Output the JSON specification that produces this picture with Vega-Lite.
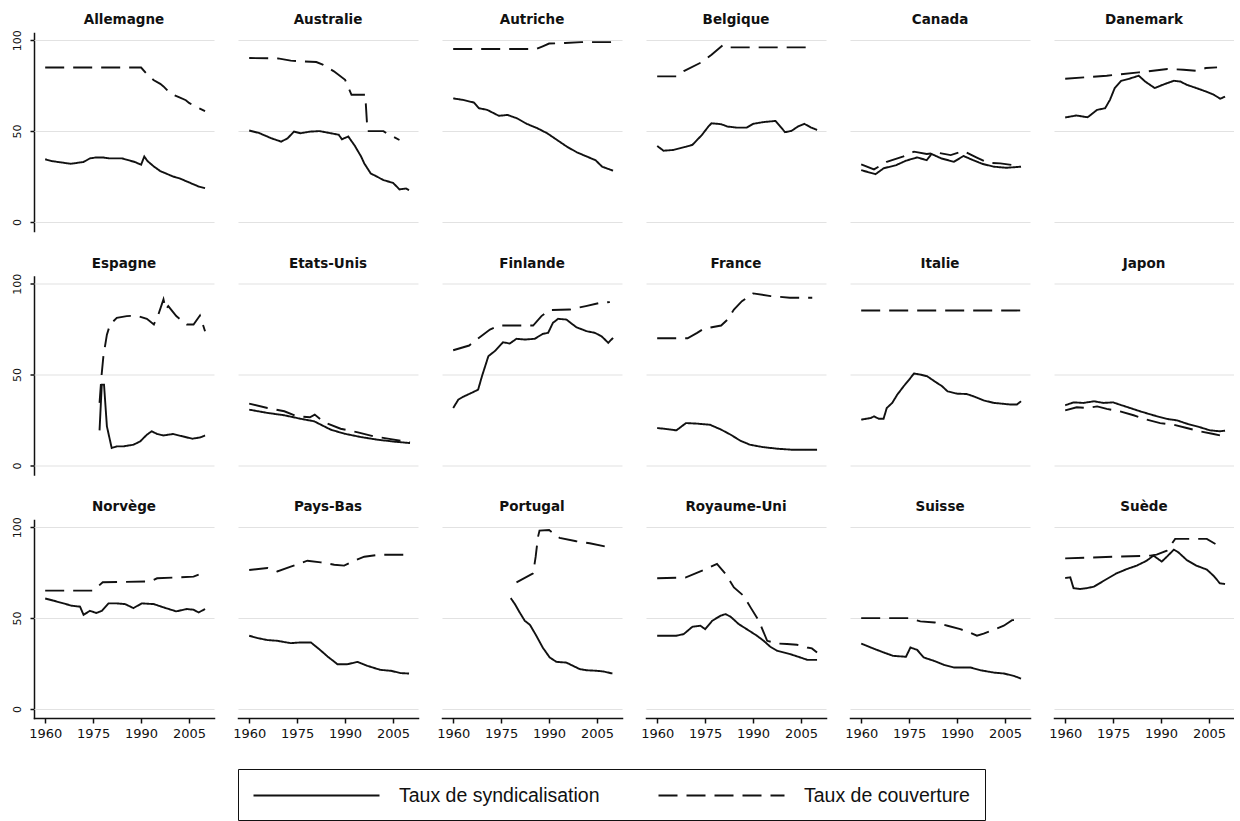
{
  "$schema": "https://vega.github.io/schema/vega-lite/v6.json",
  "padding": {"left": 4, "top": 13, "right": 0, "bottom": 0},
  "autosize": {"type": "pad"},
  "background": "white",
  "data": {"values": [
{"p":"Allemagne","s":"S","a":1960,"v":34.5},{"p":"Allemagne","s":"S","a":1962,"v":33.5},{"p":"Allemagne","s":"S","a":1964,"v":33},{"p":"Allemagne","s":"S","a":1966,"v":32.5},{"p":"Allemagne","s":"S","a":1968,"v":32},{"p":"Allemagne","s":"S","a":1970,"v":32.5},{"p":"Allemagne","s":"S","a":1972,"v":33},{"p":"Allemagne","s":"S","a":1974,"v":35},{"p":"Allemagne","s":"S","a":1976,"v":35.5},{"p":"Allemagne","s":"S","a":1978,"v":35.5},{"p":"Allemagne","s":"S","a":1980,"v":35},{"p":"Allemagne","s":"S","a":1982,"v":35},{"p":"Allemagne","s":"S","a":1984,"v":35},{"p":"Allemagne","s":"S","a":1986,"v":34},{"p":"Allemagne","s":"S","a":1988,"v":33},{"p":"Allemagne","s":"S","a":1990,"v":31.5},{"p":"Allemagne","s":"S","a":1991,"v":36},{"p":"Allemagne","s":"S","a":1992,"v":33.5},{"p":"Allemagne","s":"S","a":1994,"v":30.5},{"p":"Allemagne","s":"S","a":1996,"v":28},{"p":"Allemagne","s":"S","a":1998,"v":26.5},{"p":"Allemagne","s":"S","a":2000,"v":25},{"p":"Allemagne","s":"S","a":2002,"v":24},{"p":"Allemagne","s":"S","a":2004,"v":22.5},{"p":"Allemagne","s":"S","a":2006,"v":21},{"p":"Allemagne","s":"S","a":2008,"v":19.5},{"p":"Allemagne","s":"S","a":2010,"v":18.6},
{"p":"Allemagne","s":"C","a":1960,"v":85},{"p":"Allemagne","s":"C","a":1990,"v":85},{"p":"Allemagne","s":"C","a":1992,"v":81},{"p":"Allemagne","s":"C","a":1994,"v":78},{"p":"Allemagne","s":"C","a":1996,"v":76},{"p":"Allemagne","s":"C","a":1997,"v":74.6},{"p":"Allemagne","s":"C","a":1999,"v":71},{"p":"Allemagne","s":"C","a":2000,"v":70},{"p":"Allemagne","s":"C","a":2002,"v":68.5},{"p":"Allemagne","s":"C","a":2004,"v":67},{"p":"Allemagne","s":"C","a":2005,"v":65.5},{"p":"Allemagne","s":"C","a":2007,"v":63.5},{"p":"Allemagne","s":"C","a":2010,"v":61},
{"p":"Australie","s":"S","a":1960,"v":50.3},{"p":"Australie","s":"S","a":1963,"v":49},{"p":"Australie","s":"S","a":1967,"v":46},{"p":"Australie","s":"S","a":1970,"v":44.2},{"p":"Australie","s":"S","a":1972,"v":46},{"p":"Australie","s":"S","a":1974,"v":49.7},{"p":"Australie","s":"S","a":1976,"v":48.8},{"p":"Australie","s":"S","a":1979,"v":49.7},{"p":"Australie","s":"S","a":1982,"v":50},{"p":"Australie","s":"S","a":1985,"v":49},{"p":"Australie","s":"S","a":1988,"v":48},{"p":"Australie","s":"S","a":1989,"v":45.5},{"p":"Australie","s":"S","a":1991,"v":47},{"p":"Australie","s":"S","a":1993,"v":42},{"p":"Australie","s":"S","a":1995,"v":36},{"p":"Australie","s":"S","a":1996,"v":32.2},{"p":"Australie","s":"S","a":1998,"v":26.7},{"p":"Australie","s":"S","a":2000,"v":24.9},{"p":"Australie","s":"S","a":2002,"v":23},{"p":"Australie","s":"S","a":2005,"v":21.5},{"p":"Australie","s":"S","a":2007,"v":17.9},{"p":"Australie","s":"S","a":2009,"v":18.4},{"p":"Australie","s":"S","a":2010,"v":17.5},
{"p":"Australie","s":"C","a":1960,"v":90.2},{"p":"Australie","s":"C","a":1969,"v":90},{"p":"Australie","s":"C","a":1973,"v":88.8},{"p":"Australie","s":"C","a":1976,"v":88.4},{"p":"Australie","s":"C","a":1981,"v":88},{"p":"Australie","s":"C","a":1983,"v":86.6},{"p":"Australie","s":"C","a":1986.5,"v":82.9},{"p":"Australie","s":"C","a":1990,"v":78.2},{"p":"Australie","s":"C","a":1992,"v":70},{"p":"Australie","s":"C","a":1996.3,"v":70},{"p":"Australie","s":"C","a":1997,"v":50},{"p":"Australie","s":"C","a":2002,"v":50},{"p":"Australie","s":"C","a":2003,"v":48.8},{"p":"Australie","s":"C","a":2007,"v":45.1},
{"p":"Autriche","s":"S","a":1960,"v":68},{"p":"Autriche","s":"S","a":1963,"v":67.2},{"p":"Autriche","s":"S","a":1966.5,"v":65.7},{"p":"Autriche","s":"S","a":1968,"v":62.6},{"p":"Autriche","s":"S","a":1970.6,"v":61.7},{"p":"Autriche","s":"S","a":1974.3,"v":58.4},{"p":"Autriche","s":"S","a":1977,"v":58.9},{"p":"Autriche","s":"S","a":1980,"v":57},{"p":"Autriche","s":"S","a":1983,"v":54},{"p":"Autriche","s":"S","a":1986.3,"v":51.6},{"p":"Autriche","s":"S","a":1989.4,"v":48.8},{"p":"Autriche","s":"S","a":1992.5,"v":45.1},{"p":"Autriche","s":"S","a":1995.6,"v":41.4},{"p":"Autriche","s":"S","a":1998.7,"v":38.3},{"p":"Autriche","s":"S","a":2001.9,"v":35.9},{"p":"Autriche","s":"S","a":2004.5,"v":34},{"p":"Autriche","s":"S","a":2006.6,"v":30.4},{"p":"Autriche","s":"S","a":2010,"v":28.2},
{"p":"Autriche","s":"C","a":1960,"v":95.2},{"p":"Autriche","s":"C","a":1986,"v":95.2},{"p":"Autriche","s":"C","a":1988,"v":96.7},{"p":"Autriche","s":"C","a":1990,"v":98.2},{"p":"Autriche","s":"C","a":1995,"v":98.5},{"p":"Autriche","s":"C","a":2000,"v":99},{"p":"Autriche","s":"C","a":2010,"v":99},
{"p":"Belgique","s":"S","a":1960,"v":41.8},{"p":"Belgique","s":"S","a":1962,"v":39.2},{"p":"Belgique","s":"S","a":1965,"v":39.6},{"p":"Belgique","s":"S","a":1969,"v":41.4},{"p":"Belgique","s":"S","a":1971,"v":42.4},{"p":"Belgique","s":"S","a":1974,"v":47.9},{"p":"Belgique","s":"S","a":1976,"v":52.5},{"p":"Belgique","s":"S","a":1977,"v":54.3},{"p":"Belgique","s":"S","a":1980,"v":53.8},{"p":"Belgique","s":"S","a":1982,"v":52.5},{"p":"Belgique","s":"S","a":1985,"v":51.9},{"p":"Belgique","s":"S","a":1988,"v":51.9},{"p":"Belgique","s":"S","a":1990,"v":54},{"p":"Belgique","s":"S","a":1993,"v":54.9},{"p":"Belgique","s":"S","a":1997,"v":55.6},{"p":"Belgique","s":"S","a":1998.5,"v":52.5},{"p":"Belgique","s":"S","a":2000,"v":49.4},{"p":"Belgique","s":"S","a":2002,"v":50.1},{"p":"Belgique","s":"S","a":2004,"v":52.5},{"p":"Belgique","s":"S","a":2006,"v":54},{"p":"Belgique","s":"S","a":2008,"v":52.1},{"p":"Belgique","s":"S","a":2010,"v":50.6},
{"p":"Belgique","s":"C","a":1960,"v":80.1},{"p":"Belgique","s":"C","a":1966,"v":80.1},{"p":"Belgique","s":"C","a":1968.5,"v":83.2},{"p":"Belgique","s":"C","a":1974,"v":88},{"p":"Belgique","s":"C","a":1977,"v":92},{"p":"Belgique","s":"C","a":1980.5,"v":97.3},{"p":"Belgique","s":"C","a":1981.5,"v":96.1},{"p":"Belgique","s":"C","a":2008,"v":96.1},
{"p":"Canada","s":"S","a":1960,"v":28.5},{"p":"Canada","s":"S","a":1963,"v":27},{"p":"Canada","s":"S","a":1964.5,"v":26.3},{"p":"Canada","s":"S","a":1967,"v":29.5},{"p":"Canada","s":"S","a":1971,"v":31.3},{"p":"Canada","s":"S","a":1974,"v":33.7},{"p":"Canada","s":"S","a":1977.5,"v":35.5},{"p":"Canada","s":"S","a":1980.5,"v":34},{"p":"Canada","s":"S","a":1982,"v":37.4},{"p":"Canada","s":"S","a":1985,"v":35},{"p":"Canada","s":"S","a":1989,"v":33.1},{"p":"Canada","s":"S","a":1992,"v":36.3},{"p":"Canada","s":"S","a":1995,"v":34},{"p":"Canada","s":"S","a":1998,"v":31.9},{"p":"Canada","s":"S","a":2001.5,"v":30.4},{"p":"Canada","s":"S","a":2005.5,"v":29.8},{"p":"Canada","s":"S","a":2010,"v":30.4},
{"p":"Canada","s":"C","a":1960,"v":31.7},{"p":"Canada","s":"C","a":1964,"v":28.9},{"p":"Canada","s":"C","a":1968,"v":33.1},{"p":"Canada","s":"C","a":1973,"v":35.9},{"p":"Canada","s":"C","a":1976.5,"v":38.7},{"p":"Canada","s":"C","a":1980.5,"v":37.4},{"p":"Canada","s":"C","a":1984,"v":38.1},{"p":"Canada","s":"C","a":1988,"v":36.8},{"p":"Canada","s":"C","a":1992,"v":39},{"p":"Canada","s":"C","a":1996,"v":35.5},{"p":"Canada","s":"C","a":1999.5,"v":32.6},{"p":"Canada","s":"C","a":2003.5,"v":32.2},{"p":"Canada","s":"C","a":2007.5,"v":31.3},{"p":"Canada","s":"C","a":2009.5,"v":30.9},
{"p":"Danemark","s":"S","a":1960,"v":57.5},{"p":"Danemark","s":"S","a":1963.5,"v":58.6},{"p":"Danemark","s":"S","a":1967,"v":57.6},{"p":"Danemark","s":"S","a":1970,"v":61.7},{"p":"Danemark","s":"S","a":1972.5,"v":62.6},{"p":"Danemark","s":"S","a":1974,"v":67.2},{"p":"Danemark","s":"S","a":1975.5,"v":73.7},{"p":"Danemark","s":"S","a":1977.5,"v":77.7},{"p":"Danemark","s":"S","a":1980,"v":78.8},{"p":"Danemark","s":"S","a":1983,"v":80.5},{"p":"Danemark","s":"S","a":1985,"v":77.3},{"p":"Danemark","s":"S","a":1988,"v":73.7},{"p":"Danemark","s":"S","a":1990.5,"v":75.5},{"p":"Danemark","s":"S","a":1994,"v":77.7},{"p":"Danemark","s":"S","a":1996,"v":77.3},{"p":"Danemark","s":"S","a":1998,"v":75.5},{"p":"Danemark","s":"S","a":2001,"v":73.7},{"p":"Danemark","s":"S","a":2004,"v":71.8},{"p":"Danemark","s":"S","a":2006.5,"v":70},{"p":"Danemark","s":"S","a":2008.5,"v":67.8},{"p":"Danemark","s":"S","a":2010,"v":69},
{"p":"Danemark","s":"C","a":1960,"v":78.8},{"p":"Danemark","s":"C","a":1967,"v":79.7},{"p":"Danemark","s":"C","a":1973,"v":80.5},{"p":"Danemark","s":"C","a":1983,"v":82.3},{"p":"Danemark","s":"C","a":1992,"v":84.2},{"p":"Danemark","s":"C","a":1997,"v":83.8},{"p":"Danemark","s":"C","a":2001,"v":83.2},{"p":"Danemark","s":"C","a":2004,"v":84.7},{"p":"Danemark","s":"C","a":2007.5,"v":85.1},
{"p":"Espagne","s":"S","a":1977,"v":19.3},{"p":"Espagne","s":"S","a":1977.7,"v":44.5},{"p":"Espagne","s":"S","a":1978.4,"v":44.5},{"p":"Espagne","s":"S","a":1979.3,"v":21.5},{"p":"Espagne","s":"S","a":1980.8,"v":9.6},{"p":"Espagne","s":"S","a":1982.4,"v":10.5},{"p":"Espagne","s":"S","a":1984.5,"v":10.5},{"p":"Espagne","s":"S","a":1987.6,"v":11.4},{"p":"Espagne","s":"S","a":1989.7,"v":13.2},{"p":"Espagne","s":"S","a":1991.8,"v":16.9},{"p":"Espagne","s":"S","a":1993.3,"v":18.8},{"p":"Espagne","s":"S","a":1995,"v":17.3},{"p":"Espagne","s":"S","a":1997,"v":16.5},{"p":"Espagne","s":"S","a":2000,"v":17.3},{"p":"Espagne","s":"S","a":2003,"v":16},{"p":"Espagne","s":"S","a":2006,"v":14.7},{"p":"Espagne","s":"S","a":2008.5,"v":15.4},{"p":"Espagne","s":"S","a":2010,"v":16.5},
{"p":"Espagne","s":"C","a":1977,"v":34.4},{"p":"Espagne","s":"C","a":1977.6,"v":49},{"p":"Espagne","s":"C","a":1978.2,"v":60},{"p":"Espagne","s":"C","a":1979.3,"v":72},{"p":"Espagne","s":"C","a":1980.3,"v":77.6},{"p":"Espagne","s":"C","a":1982.4,"v":81.2},{"p":"Espagne","s":"C","a":1985.5,"v":82.2},{"p":"Espagne","s":"C","a":1988.6,"v":82.5},{"p":"Espagne","s":"C","a":1991.8,"v":80.7},{"p":"Espagne","s":"C","a":1994,"v":77.6},{"p":"Espagne","s":"C","a":1995.4,"v":83.1},{"p":"Espagne","s":"C","a":1997,"v":91.4},{"p":"Espagne","s":"C","a":1997.7,"v":85.8},{"p":"Espagne","s":"C","a":1998.5,"v":87.7},{"p":"Espagne","s":"C","a":2001,"v":82.2},{"p":"Espagne","s":"C","a":2004.3,"v":77.6},{"p":"Espagne","s":"C","a":2006.4,"v":77.6},{"p":"Espagne","s":"C","a":2008.4,"v":82.5},{"p":"Espagne","s":"C","a":2010,"v":73.9},
{"p":"Etats-Unis","s":"S","a":1960,"v":30.7},{"p":"Etats-Unis","s":"S","a":1965.7,"v":28.9},{"p":"Etats-Unis","s":"S","a":1971,"v":27.6},{"p":"Etats-Unis","s":"S","a":1976,"v":25.7},{"p":"Etats-Unis","s":"S","a":1980.3,"v":24.3},{"p":"Etats-Unis","s":"S","a":1985.5,"v":19.7},{"p":"Etats-Unis","s":"S","a":1989.7,"v":17.5},{"p":"Etats-Unis","s":"S","a":1995,"v":15.6},{"p":"Etats-Unis","s":"S","a":2000,"v":14.2},{"p":"Etats-Unis","s":"S","a":2005.3,"v":13.1},{"p":"Etats-Unis","s":"S","a":2010.3,"v":12.3},
{"p":"Etats-Unis","s":"C","a":1960,"v":34},{"p":"Etats-Unis","s":"C","a":1965.7,"v":31.6},{"p":"Etats-Unis","s":"C","a":1971,"v":29.8},{"p":"Etats-Unis","s":"C","a":1975,"v":27},{"p":"Etats-Unis","s":"C","a":1979,"v":26.5},{"p":"Etats-Unis","s":"C","a":1980.5,"v":28},{"p":"Etats-Unis","s":"C","a":1983.5,"v":23.7},{"p":"Etats-Unis","s":"C","a":1988.6,"v":20.2},{"p":"Etats-Unis","s":"C","a":1994,"v":18.2},{"p":"Etats-Unis","s":"C","a":1999,"v":16},{"p":"Etats-Unis","s":"C","a":2004.3,"v":14.5},{"p":"Etats-Unis","s":"C","a":2010.3,"v":12.7},
{"p":"Finlande","s":"S","a":1960,"v":31.6},{"p":"Finlande","s":"S","a":1961.6,"v":36.2},{"p":"Finlande","s":"S","a":1963,"v":37.7},{"p":"Finlande","s":"S","a":1965.7,"v":39.9},{"p":"Finlande","s":"S","a":1967.8,"v":41.7},{"p":"Finlande","s":"S","a":1969,"v":49.1},{"p":"Finlande","s":"S","a":1971,"v":60.1},{"p":"Finlande","s":"S","a":1973,"v":62.9},{"p":"Finlande","s":"S","a":1975.6,"v":67.8},{"p":"Finlande","s":"S","a":1977.7,"v":67.1},{"p":"Finlande","s":"S","a":1979.8,"v":69.7},{"p":"Finlande","s":"S","a":1982.4,"v":69.3},{"p":"Finlande","s":"S","a":1985.5,"v":69.7},{"p":"Finlande","s":"S","a":1988,"v":72.4},{"p":"Finlande","s":"S","a":1989.7,"v":73},{"p":"Finlande","s":"S","a":1991.2,"v":78.5},{"p":"Finlande","s":"S","a":1992.8,"v":80.7},{"p":"Finlande","s":"S","a":1995.4,"v":80.3},{"p":"Finlande","s":"S","a":1998.5,"v":76.1},{"p":"Finlande","s":"S","a":2001.7,"v":73.9},{"p":"Finlande","s":"S","a":2004.3,"v":73},{"p":"Finlande","s":"S","a":2006.4,"v":71.1},{"p":"Finlande","s":"S","a":2008.5,"v":67.5},{"p":"Finlande","s":"S","a":2010,"v":70.2},
{"p":"Finlande","s":"C","a":1960,"v":63.4},{"p":"Finlande","s":"C","a":1965,"v":66},{"p":"Finlande","s":"C","a":1968,"v":70.2},{"p":"Finlande","s":"C","a":1971.5,"v":74.8},{"p":"Finlande","s":"C","a":1974.5,"v":77},{"p":"Finlande","s":"C","a":1985,"v":77},{"p":"Finlande","s":"C","a":1987.6,"v":82.2},{"p":"Finlande","s":"C","a":1990,"v":85.5},{"p":"Finlande","s":"C","a":1996.5,"v":85.8},{"p":"Finlande","s":"C","a":2001.5,"v":87.7},{"p":"Finlande","s":"C","a":2006,"v":89.5},{"p":"Finlande","s":"C","a":2009,"v":89.9},
{"p":"France","s":"S","a":1960,"v":20.6},{"p":"France","s":"S","a":1963,"v":20},{"p":"France","s":"S","a":1966,"v":19.3},{"p":"France","s":"S","a":1969,"v":23.3},{"p":"France","s":"S","a":1972.5,"v":23},{"p":"France","s":"S","a":1976.5,"v":22.4},{"p":"France","s":"S","a":1980,"v":19.7},{"p":"France","s":"S","a":1983,"v":16.9},{"p":"France","s":"S","a":1986,"v":13.6},{"p":"France","s":"S","a":1989,"v":11.4},{"p":"France","s":"S","a":1993,"v":10.1},{"p":"France","s":"S","a":1997.5,"v":9.2},{"p":"France","s":"S","a":2002.5,"v":8.6},{"p":"France","s":"S","a":2010,"v":8.6},
{"p":"France","s":"C","a":1960,"v":70},{"p":"France","s":"C","a":1969.5,"v":70},{"p":"France","s":"C","a":1972.5,"v":73},{"p":"France","s":"C","a":1974.5,"v":75.2},{"p":"France","s":"C","a":1980,"v":77},{"p":"France","s":"C","a":1982,"v":80.3},{"p":"France","s":"C","a":1984,"v":85.8},{"p":"France","s":"C","a":1986.5,"v":90.4},{"p":"France","s":"C","a":1990,"v":94.7},{"p":"France","s":"C","a":1995.5,"v":93.2},{"p":"France","s":"C","a":2001.5,"v":92.3},{"p":"France","s":"C","a":2008.5,"v":92.3},
{"p":"Italie","s":"S","a":1960,"v":25.2},{"p":"Italie","s":"S","a":1963,"v":26.1},{"p":"Italie","s":"S","a":1964,"v":27},{"p":"Italie","s":"S","a":1965.5,"v":25.7},{"p":"Italie","s":"S","a":1967,"v":25.7},{"p":"Italie","s":"S","a":1968,"v":31.6},{"p":"Italie","s":"S","a":1969.7,"v":34.4},{"p":"Italie","s":"S","a":1971.3,"v":39},{"p":"Italie","s":"S","a":1973.3,"v":43.6},{"p":"Italie","s":"S","a":1975,"v":47.2},{"p":"Italie","s":"S","a":1976.5,"v":50.6},{"p":"Italie","s":"S","a":1978.5,"v":50},{"p":"Italie","s":"S","a":1980.6,"v":49.1},{"p":"Italie","s":"S","a":1983.2,"v":46},{"p":"Italie","s":"S","a":1985.3,"v":43.6},{"p":"Italie","s":"S","a":1987,"v":40.8},{"p":"Italie","s":"S","a":1990,"v":39.5},{"p":"Italie","s":"S","a":1993,"v":39.3},{"p":"Italie","s":"S","a":1995.2,"v":38},{"p":"Italie","s":"S","a":1998.3,"v":35.8},{"p":"Italie","s":"S","a":2001.5,"v":34.4},{"p":"Italie","s":"S","a":2004,"v":34},{"p":"Italie","s":"S","a":2006.7,"v":33.5},{"p":"Italie","s":"S","a":2008.7,"v":33.5},{"p":"Italie","s":"S","a":2010,"v":35.3},
{"p":"Italie","s":"C","a":1960,"v":85.3},{"p":"Italie","s":"C","a":2010,"v":85.3},
{"p":"Japon","s":"S","a":1960,"v":33.1},{"p":"Japon","s":"S","a":1962.6,"v":34.7},{"p":"Japon","s":"S","a":1965.7,"v":34.4},{"p":"Japon","s":"S","a":1969,"v":35.3},{"p":"Japon","s":"S","a":1972,"v":34.4},{"p":"Japon","s":"S","a":1975,"v":34.7},{"p":"Japon","s":"S","a":1977,"v":33.5},{"p":"Japon","s":"S","a":1980.3,"v":31.6},{"p":"Japon","s":"S","a":1983.4,"v":29.8},{"p":"Japon","s":"S","a":1987.6,"v":27.6},{"p":"Japon","s":"S","a":1991.8,"v":25.6},{"p":"Japon","s":"S","a":1995,"v":24.8},{"p":"Japon","s":"S","a":1998,"v":23},{"p":"Japon","s":"S","a":2002,"v":21.1},{"p":"Japon","s":"S","a":2005.3,"v":19.3},{"p":"Japon","s":"S","a":2008.4,"v":18.8},{"p":"Japon","s":"S","a":2010,"v":19.1},
{"p":"Japon","s":"C","a":1960,"v":30.3},{"p":"Japon","s":"C","a":1963.6,"v":32},{"p":"Japon","s":"C","a":1966.8,"v":31.6},{"p":"Japon","s":"C","a":1970,"v":32.5},{"p":"Japon","s":"C","a":1973,"v":31.1},{"p":"Japon","s":"C","a":1977,"v":29.8},{"p":"Japon","s":"C","a":1981.4,"v":27.6},{"p":"Japon","s":"C","a":1985.5,"v":25.2},{"p":"Japon","s":"C","a":1989.7,"v":23.3},{"p":"Japon","s":"C","a":1994,"v":22.4},{"p":"Japon","s":"C","a":1998,"v":20.6},{"p":"Japon","s":"C","a":2002,"v":18.8},{"p":"Japon","s":"C","a":2006.4,"v":17.3},{"p":"Japon","s":"C","a":2008.4,"v":16.5},
{"p":"Norvège","s":"S","a":1960,"v":60.8},{"p":"Norvège","s":"S","a":1962.6,"v":59.6},{"p":"Norvège","s":"S","a":1965.7,"v":58.1},{"p":"Norvège","s":"S","a":1968.3,"v":56.8},{"p":"Norvège","s":"S","a":1970.9,"v":56.3},{"p":"Norvège","s":"S","a":1972,"v":51.8},{"p":"Norvège","s":"S","a":1974,"v":54},{"p":"Norvège","s":"S","a":1976,"v":52.8},{"p":"Norvège","s":"S","a":1977.7,"v":54},{"p":"Norvège","s":"S","a":1979.8,"v":58.1},{"p":"Norvège","s":"S","a":1982.4,"v":58.1},{"p":"Norvège","s":"S","a":1985,"v":57.7},{"p":"Norvège","s":"S","a":1987.6,"v":55.5},{"p":"Norvège","s":"S","a":1990.2,"v":58.1},{"p":"Norvège","s":"S","a":1994,"v":57.7},{"p":"Norvège","s":"S","a":1997,"v":55.9},{"p":"Norvège","s":"S","a":2001,"v":53.7},{"p":"Norvège","s":"S","a":2004.3,"v":55},{"p":"Norvège","s":"S","a":2006.4,"v":54.6},{"p":"Norvège","s":"S","a":2008,"v":53.1},{"p":"Norvège","s":"S","a":2010,"v":55},
{"p":"Norvège","s":"C","a":1960,"v":65.1},{"p":"Norvège","s":"C","a":1975,"v":65.1},{"p":"Norvège","s":"C","a":1978,"v":69.7},{"p":"Norvège","s":"C","a":1993,"v":70.2},{"p":"Norvège","s":"C","a":1995,"v":71.9},{"p":"Norvège","s":"C","a":2006.4,"v":72.8},{"p":"Norvège","s":"C","a":2008,"v":73.9},
{"p":"Pays-Bas","s":"S","a":1960,"v":40.3},{"p":"Pays-Bas","s":"S","a":1962.6,"v":39},{"p":"Pays-Bas","s":"S","a":1965.7,"v":37.9},{"p":"Pays-Bas","s":"S","a":1968.8,"v":37.5},{"p":"Pays-Bas","s":"S","a":1973,"v":36.2},{"p":"Pays-Bas","s":"S","a":1976,"v":36.6},{"p":"Pays-Bas","s":"S","a":1979.3,"v":36.6},{"p":"Pays-Bas","s":"S","a":1981.9,"v":32.9},{"p":"Pays-Bas","s":"S","a":1984.5,"v":28.9},{"p":"Pays-Bas","s":"S","a":1987.6,"v":24.6},{"p":"Pays-Bas","s":"S","a":1990.7,"v":24.6},{"p":"Pays-Bas","s":"S","a":1993.9,"v":25.9},{"p":"Pays-Bas","s":"S","a":1997,"v":23.7},{"p":"Pays-Bas","s":"S","a":2001,"v":21.5},{"p":"Pays-Bas","s":"S","a":2004.3,"v":21},{"p":"Pays-Bas","s":"S","a":2007.4,"v":19.7},{"p":"Pays-Bas","s":"S","a":2010,"v":19.5},
{"p":"Pays-Bas","s":"C","a":1960,"v":76.5},{"p":"Pays-Bas","s":"C","a":1965.7,"v":77.6},{"p":"Pays-Bas","s":"C","a":1968.8,"v":75.7},{"p":"Pays-Bas","s":"C","a":1973,"v":78.3},{"p":"Pays-Bas","s":"C","a":1978.2,"v":81.6},{"p":"Pays-Bas","s":"C","a":1982.4,"v":80.7},{"p":"Pays-Bas","s":"C","a":1986.6,"v":79.4},{"p":"Pays-Bas","s":"C","a":1989.7,"v":78.9},{"p":"Pays-Bas","s":"C","a":1992.8,"v":81.6},{"p":"Pays-Bas","s":"C","a":1996,"v":83.8},{"p":"Pays-Bas","s":"C","a":2001,"v":84.9},{"p":"Pays-Bas","s":"C","a":2009.5,"v":84.9},
{"p":"Portugal","s":"S","a":1978,"v":61},{"p":"Portugal","s":"S","a":1979.3,"v":57.7},{"p":"Portugal","s":"S","a":1980.8,"v":53.1},{"p":"Portugal","s":"S","a":1982.4,"v":48.5},{"p":"Portugal","s":"S","a":1984,"v":46.3},{"p":"Portugal","s":"S","a":1986,"v":40.3},{"p":"Portugal","s":"S","a":1988,"v":33.8},{"p":"Portugal","s":"S","a":1990.2,"v":28.3},{"p":"Portugal","s":"S","a":1992.3,"v":25.9},{"p":"Portugal","s":"S","a":1995.4,"v":25.5},{"p":"Portugal","s":"S","a":1997.5,"v":23.7},{"p":"Portugal","s":"S","a":1999.6,"v":21.9},{"p":"Portugal","s":"S","a":2001.7,"v":21.3},{"p":"Portugal","s":"S","a":2004.8,"v":21},{"p":"Portugal","s":"S","a":2007,"v":20.6},{"p":"Portugal","s":"S","a":2009.8,"v":19.5},
{"p":"Portugal","s":"C","a":1979.8,"v":69.7},{"p":"Portugal","s":"C","a":1985,"v":74.6},{"p":"Portugal","s":"C","a":1985.8,"v":83.8},{"p":"Portugal","s":"C","a":1986.5,"v":94.5},{"p":"Portugal","s":"C","a":1987,"v":98.2},{"p":"Portugal","s":"C","a":1990,"v":98.5},{"p":"Portugal","s":"C","a":1993.3,"v":94.1},{"p":"Portugal","s":"C","a":1998.5,"v":92.3},{"p":"Portugal","s":"C","a":2002.7,"v":91.2},{"p":"Portugal","s":"C","a":2007.4,"v":89.5},
{"p":"Royaume-Uni","s":"S","a":1960,"v":40.3},{"p":"Royaume-Uni","s":"S","a":1966,"v":40.3},{"p":"Royaume-Uni","s":"S","a":1968.3,"v":41.2},{"p":"Royaume-Uni","s":"S","a":1971,"v":45.2},{"p":"Royaume-Uni","s":"S","a":1973.5,"v":45.8},{"p":"Royaume-Uni","s":"S","a":1975,"v":43.9},{"p":"Royaume-Uni","s":"S","a":1977.2,"v":48.5},{"p":"Royaume-Uni","s":"S","a":1979.8,"v":51.3},{"p":"Royaume-Uni","s":"S","a":1981.4,"v":52.2},{"p":"Royaume-Uni","s":"S","a":1983,"v":50.7},{"p":"Royaume-Uni","s":"S","a":1985.5,"v":46.7},{"p":"Royaume-Uni","s":"S","a":1988,"v":43.9},{"p":"Royaume-Uni","s":"S","a":1991.2,"v":40.3},{"p":"Royaume-Uni","s":"S","a":1993.3,"v":37.5},{"p":"Royaume-Uni","s":"S","a":1995.4,"v":34.2},{"p":"Royaume-Uni","s":"S","a":1997.5,"v":32},{"p":"Royaume-Uni","s":"S","a":2001.7,"v":30.1},{"p":"Royaume-Uni","s":"S","a":2004.8,"v":28.3},{"p":"Royaume-Uni","s":"S","a":2007,"v":27},{"p":"Royaume-Uni","s":"S","a":2010,"v":27},
{"p":"Royaume-Uni","s":"C","a":1960,"v":71.9},{"p":"Royaume-Uni","s":"C","a":1969,"v":72.4},{"p":"Royaume-Uni","s":"C","a":1974.6,"v":76.5},{"p":"Royaume-Uni","s":"C","a":1978.7,"v":79.8},{"p":"Royaume-Uni","s":"C","a":1981.4,"v":74.3},{"p":"Royaume-Uni","s":"C","a":1984,"v":66.9},{"p":"Royaume-Uni","s":"C","a":1987,"v":62.3},{"p":"Royaume-Uni","s":"C","a":1989.2,"v":55.9},{"p":"Royaume-Uni","s":"C","a":1991.8,"v":48.5},{"p":"Royaume-Uni","s":"C","a":1994.4,"v":37.5},{"p":"Royaume-Uni","s":"C","a":1997.5,"v":36},{"p":"Royaume-Uni","s":"C","a":2000.6,"v":35.7},{"p":"Royaume-Uni","s":"C","a":2003.7,"v":35.3},{"p":"Royaume-Uni","s":"C","a":2006.9,"v":33.8},{"p":"Royaume-Uni","s":"C","a":2008.4,"v":33.3},{"p":"Royaume-Uni","s":"C","a":2010,"v":31.1},
{"p":"Suisse","s":"S","a":1960,"v":36},{"p":"Suisse","s":"S","a":1963,"v":33.8},{"p":"Suisse","s":"S","a":1967,"v":31.1},{"p":"Suisse","s":"S","a":1970,"v":29.2},{"p":"Suisse","s":"S","a":1974,"v":28.7},{"p":"Suisse","s":"S","a":1975.4,"v":33.8},{"p":"Suisse","s":"S","a":1977.5,"v":32.5},{"p":"Suisse","s":"S","a":1979.6,"v":28.3},{"p":"Suisse","s":"S","a":1982.7,"v":26.5},{"p":"Suisse","s":"S","a":1985.8,"v":24.3},{"p":"Suisse","s":"S","a":1989,"v":22.8},{"p":"Suisse","s":"S","a":1994.2,"v":22.8},{"p":"Suisse","s":"S","a":1997.3,"v":21.3},{"p":"Suisse","s":"S","a":2001.5,"v":20},{"p":"Suisse","s":"S","a":2004.6,"v":19.5},{"p":"Suisse","s":"S","a":2007.7,"v":18.2},{"p":"Suisse","s":"S","a":2010,"v":16.7},
{"p":"Suisse","s":"C","a":1960,"v":50},{"p":"Suisse","s":"C","a":1975,"v":50},{"p":"Suisse","s":"C","a":1978.5,"v":48.2},{"p":"Suisse","s":"C","a":1983,"v":47.6},{"p":"Suisse","s":"C","a":1987,"v":45.8},{"p":"Suisse","s":"C","a":1991,"v":43.9},{"p":"Suisse","s":"C","a":1994,"v":42.1},{"p":"Suisse","s":"C","a":1996.2,"v":40.3},{"p":"Suisse","s":"C","a":1998.3,"v":41.5},{"p":"Suisse","s":"C","a":2001.5,"v":43.6},{"p":"Suisse","s":"C","a":2004.6,"v":45.8},{"p":"Suisse","s":"C","a":2007.2,"v":48.9},{"p":"Suisse","s":"C","a":2009.8,"v":48.9},
{"p":"Suède","s":"S","a":1960,"v":72.1},{"p":"Suède","s":"S","a":1961.6,"v":72.4},{"p":"Suède","s":"S","a":1962.6,"v":66.5},{"p":"Suède","s":"S","a":1964.7,"v":66},{"p":"Suède","s":"S","a":1966.8,"v":66.5},{"p":"Suède","s":"S","a":1969,"v":67.3},{"p":"Suède","s":"S","a":1970.4,"v":68.8},{"p":"Suède","s":"S","a":1973,"v":71.5},{"p":"Suède","s":"S","a":1976,"v":74.6},{"p":"Suède","s":"S","a":1979.3,"v":77},{"p":"Suède","s":"S","a":1982.4,"v":78.9},{"p":"Suède","s":"S","a":1985.5,"v":81.6},{"p":"Suède","s":"S","a":1987.6,"v":84.4},{"p":"Suède","s":"S","a":1990.2,"v":81.1},{"p":"Suède","s":"S","a":1991.8,"v":83.8},{"p":"Suède","s":"S","a":1994,"v":87.7},{"p":"Suède","s":"S","a":1995.4,"v":86.2},{"p":"Suède","s":"S","a":1998,"v":82},{"p":"Suède","s":"S","a":2001,"v":78.9},{"p":"Suède","s":"S","a":2004.3,"v":76.7},{"p":"Suède","s":"S","a":2006.4,"v":73.3},{"p":"Suède","s":"S","a":2008.4,"v":69.1},{"p":"Suède","s":"S","a":2010,"v":68.8},
{"p":"Suède","s":"C","a":1960,"v":82.9},{"p":"Suède","s":"C","a":1986.6,"v":84.4},{"p":"Suède","s":"C","a":1988.6,"v":84.9},{"p":"Suède","s":"C","a":1991.8,"v":87.1},{"p":"Suède","s":"C","a":1994.4,"v":93.6},{"p":"Suède","s":"C","a":2004.3,"v":93.6},{"p":"Suède","s":"C","a":2007,"v":90.8}
  ]},
  "facet": {
    "field": "p", "type": "nominal",
    "sort": ["Allemagne","Australie","Autriche","Belgique","Canada","Danemark","Espagne","Etats-Unis","Finlande","France","Italie","Japon","Norvège","Pays-Bas","Portugal","Royaume-Uni","Suisse","Suède"],
    "header": {"title": null, "labelFont": "DejaVu Sans", "labelFontWeight": "bold", "labelFontSize": 13.5, "labelColor": "#111", "labelPadding": 6.5}
  },
  "columns": 6,
  "spacing": {"row": 25.5, "column": 24},
  "spec": {
    "width": 180,
    "height": 198,
    "mark": {"type": "line", "color": "#111", "strokeWidth": 1.9, "strokeCap": "butt"},
    "encoding": {
      "x": {"field": "a", "type": "quantitative",
        "scale": {"domain": [1956.5, 2012.8], "nice": false, "zero": false},
        "axis": {"title": null, "values": [1960, 1975, 1990, 2005], "format": "d", "grid": false,
          "labelFont": "DejaVu Sans", "labelFontSize": 13, "labelColor": "#111", "labelPadding": 4, "labelFlush": false,
          "tickSize": 5, "tickColor": "#111", "tickWidth": 1.5, "domainColor": "#111", "domainWidth": 1.5}},
      "y": {"field": "v", "type": "quantitative",
        "scale": {"domain": [-5, 104], "nice": false, "zero": false},
        "axis": {"title": null, "values": [0, 50, 100], "grid": true, "gridColor": "#e2e2e2", "gridWidth": 1.2,
          "labelFont": "DejaVu Sans", "labelFontSize": 11, "labelColor": "#111", "labelAngle": 270, "labelAlign": "center", "labelBaseline": "bottom", "labelPadding": 8,
          "tickSize": 4, "tickColor": "#111", "tickWidth": 1.5, "domainColor": "#111", "domainWidth": 1.5,
          "minExtent": 30, "maxExtent": 30}},
      "strokeDash": {"field": "s", "type": "nominal",
        "scale": {"domain": ["S", "C"], "range": [[1, 0], [19, 9]]},
        "legend": {"title": null, "orient": "none", "legendX": 204, "legendY": 736, "direction": "horizontal",
          "labelExpr": "datum.label == 'S' ? 'Taux de syndicalisation' : 'Taux de couverture'",
          "symbolType": "M-6,0H6", "symbolSize": 441, "symbolOffset": 52, "symbolStrokeColor": "#111", "symbolStrokeWidth": 1.9,
          "labelFont": "Liberation Sans", "labelFontSize": 19.5, "labelColor": "#111", "labelOffset": 71, "labelLimit": 400, "columnPadding": 54,
          "strokeColor": "#111", "fillColor": "white", "padding": 15}}
    }
  },
  "config": {"view": {"stroke": null}, "axis": {"domainCap": "square"}}
}
